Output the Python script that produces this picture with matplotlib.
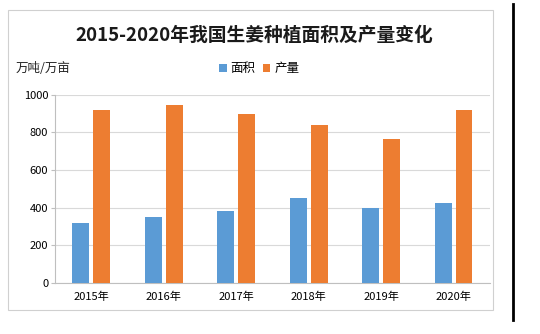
import numpy as np
import matplotlib.pyplot as plt
from matplotlib.patches import Rectangle
from matplotlib.lines import Line2D

plt.rcParams['font.family'] = ['Noto Sans CJK SC', 'DejaVu Sans']

# データ
years = ['2015年', '2016年', '2017年', '2018年', '2019年', '2020年']
area = [321, 351, 383, 450, 401, 427]
output = [919, 944, 899, 838, 765, 920]
yticks = [0, 200, 400, 600, 800, 1000]

blue = '#5B9BD5'
orange = '#ED7D31'

fig = plt.figure(figsize=(5.4, 3.34), dpi=100)
ax = fig.add_axes([0.102, 0.152, 0.805, 0.565])

x = np.arange(len(years))
w = 0.233
ax.bar(x - 0.144, area, w, color=blue, label='面积', zorder=3)
ax.bar(x + 0.144, output, w, color=orange, label='产量', zorder=3)

ax.set_xlim(-0.5, len(years) - 0.5)
ax.set_ylim(0, 1000)
ax.set_yticks(yticks)
ax.set_xticks(x)
ax.set_xticklabels(years, fontsize=8)
ax.tick_params(axis='y', labelsize=8, length=3, color='#BFBFBF', pad=2)
ax.tick_params(axis='x', length=0, pad=6)
ax.grid(axis='y', color='#D9D9D9', linewidth=0.8, zorder=0)
for s in ['top', 'right']:
    ax.spines[s].set_visible(False)
ax.spines['left'].set_color('#BFBFBF')
ax.spines['bottom'].set_color('#BFBFBF')

# タイトル・凡例
fig.text(0.47, 0.895, '2015-2020年我国生姜种植面积及产量变化', ha='center', va='center',
         fontsize=13.5, fontweight='bold', color='#1a1a1a')
fig.text(0.028, 0.795, '万吨/万亩', ha='left', va='center', fontsize=9, color='#222222')
fig.legend(loc='center', bbox_to_anchor=(0.48, 0.795), ncol=2, frameon=False,
           fontsize=9, handlelength=0.6, handleheight=0.6, handletextpad=0.3,
           columnspacing=0.6)

# 枠線
fig.patches.append(Rectangle((8 / 540, 1 - 310 / 334), 485 / 540, 300 / 334,
                             transform=fig.transFigure, fill=False,
                             edgecolor='#D0D0D0', linewidth=0.8))
fig.lines.append(Line2D([513 / 540, 513 / 540], [1 - 320 / 334, 1 - 4 / 334],
                        transform=fig.transFigure, color='black', linewidth=2))

fig.savefig('out.png', dpi=100)
